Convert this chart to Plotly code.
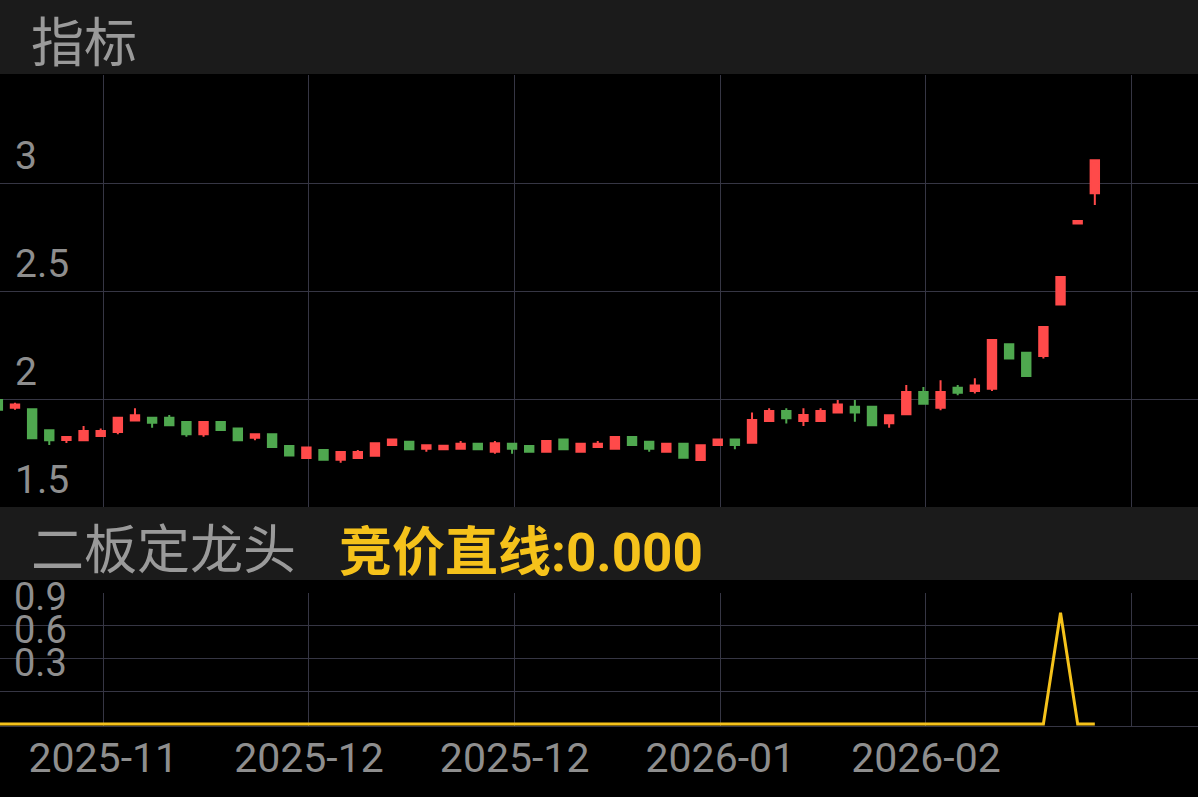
import plotly.graph_objects as go

# ---------------- data ----------------
candle_idx = list(range(-1, 64))
opens = [1.995, 1.960, 1.952, 1.855, 1.810, 1.809, 1.829, 1.847, 1.900, 1.913,
         1.913, 1.894, 1.837, 1.894, 1.864, 1.821, 1.837, 1.782, 1.727, 1.764,
         1.719, 1.727, 1.737, 1.787, 1.802, 1.770, 1.767, 1.770, 1.793, 1.756,
         1.793, 1.782, 1.756, 1.813, 1.756, 1.778, 1.770, 1.824, 1.802, 1.756,
         1.793, 1.718, 1.787, 1.813, 1.798, 1.898, 1.944, 1.898, 1.898, 1.937,
         1.964, 1.964, 1.888, 1.929, 2.032, 1.960, 2.052, 2.037, 2.048, 2.253,
         2.214, 2.199, 2.438, 2.812, 2.952]
highs = [1.997, 1.983, 1.953, 1.857, 1.826, 1.875, 1.864, 1.915, 1.957, 1.915,
         1.926, 1.896, 1.896, 1.896, 1.866, 1.839, 1.839, 1.784, 1.777, 1.766,
         1.757, 1.764, 1.797, 1.815, 1.804, 1.788, 1.788, 1.806, 1.795, 1.806,
         1.795, 1.784, 1.808, 1.815, 1.795, 1.806, 1.826, 1.826, 1.804, 1.795,
         1.795, 1.788, 1.815, 1.815, 1.937, 1.957, 1.957, 1.957, 1.957, 1.995,
         1.995, 1.966, 1.927, 2.065, 2.056, 2.087, 2.065, 2.096, 2.275, 2.255,
         2.216, 2.335, 2.567, 2.824, 3.107]
lows = [1.948, 1.950, 1.817, 1.787, 1.796, 1.807, 1.825, 1.837, 1.899, 1.867,
        1.876, 1.825, 1.825, 1.854, 1.807, 1.809, 1.776, 1.737, 1.725, 1.717,
        1.705, 1.725, 1.735, 1.785, 1.765, 1.756, 1.763, 1.768, 1.765, 1.747,
        1.747, 1.754, 1.754, 1.765, 1.754, 1.776, 1.768, 1.785, 1.756, 1.754,
        1.726, 1.716, 1.785, 1.767, 1.796, 1.894, 1.886, 1.875, 1.896, 1.935,
        1.895, 1.876, 1.867, 1.927, 1.976, 1.948, 2.017, 2.026, 2.037, 2.186,
        2.104, 2.187, 2.436, 2.812, 2.898]
closes = [1.950, 1.975, 1.818, 1.809, 1.824, 1.852, 1.852, 1.913, 1.925, 1.890,
          1.878, 1.837, 1.894, 1.856, 1.809, 1.837, 1.778, 1.739, 1.775, 1.719,
          1.755, 1.755, 1.795, 1.813, 1.767, 1.786, 1.784, 1.793, 1.767, 1.795,
          1.770, 1.756, 1.806, 1.767, 1.793, 1.793, 1.824, 1.787, 1.770, 1.793,
          1.728, 1.786, 1.813, 1.787, 1.903, 1.944, 1.911, 1.926, 1.944, 1.975,
          1.937, 1.878, 1.925, 2.032, 1.978, 2.032, 2.029, 2.063, 2.273, 2.188,
          2.106, 2.333, 2.565, 2.824, 3.105]
signal = [0, 0, 0, 0, 0, 0, 0, 0, 0, 0,
          0, 0, 0, 0, 0, 0, 0, 0, 0, 0,
          0, 0, 0, 0, 0, 0, 0, 0, 0, 0,
          0, 0, 0, 0, 0, 0, 0, 0, 0, 0,
          0, 0, 0, 0, 0, 0, 0, 0, 0, 0,
          0, 0, 0, 0, 0, 0, 0, 0, 0, 0,
          0, 0, 0.85, 0, 0]

x_tick_labels = ["2025-11", "2025-12", "2025-12", "2026-01", "2026-02", ""]
main_tick_vals = [1.5, 2, 2.5, 3]
main_tick_labels = ["1.5", "2", "2.5", "3"]
sub_tick_vals = [1.0, 0.75, 0.5]
sub_tick_labels = ["0.9", "0.6", "0.3"]

title_main = "指标"
title_sub = "二板定龙头"
sub_value_text = "竞价直线:0.000"

# ---------------- style ----------------
W, H = 1198, 797
RED = "#FF4A4A"
GREEN = "#4FA84F"
YELLOW = "#F5C21B"
GRID = "#363644"
BAND = "#1B1B1B"
TXT = "#8E8E8E"
HDR = "#9A9A9A"
FONT = "Roboto, 'Noto Sans CJK SC', sans-serif"

x_grid = [5.15 + 12 * k for k in range(len(x_tick_labels))]
x_range = [-0.875, 69.02]

def py(px_from_top):
    return (H - px_from_top) / H

fig = go.Figure()
fig.add_trace(go.Candlestick(
    x=candle_idx, open=opens, high=highs, low=lows, close=closes,
    increasing=dict(line=dict(color=RED, width=2), fillcolor=RED),
    decreasing=dict(line=dict(color=GREEN, width=2), fillcolor=GREEN),
    whiskerwidth=0, xaxis="x", yaxis="y", showlegend=False,
))
fig.add_trace(go.Scatter(
    x=candle_idx, y=signal, mode="lines",
    line=dict(color=YELLOW, width=3), xaxis="x2", yaxis="y2", showlegend=False,
))

annotations = []
for v, t in zip(main_tick_vals, main_tick_labels):
    annotations.append(dict(text=t, xref="paper", x=13 / W, xanchor="left",
                            yref="y", y=v, yanchor="middle", yshift=27,
                            showarrow=False, font=dict(family=FONT, size=39, color=TXT)))
for v, t in zip(sub_tick_vals, sub_tick_labels):
    annotations.append(dict(text=t, xref="paper", x=13 / W, xanchor="left",
                            yref="y2", y=v, yanchor="middle", yshift=-4, height=30,
                            valign="middle", borderpad=0,
                            showarrow=False, font=dict(family=FONT, size=38, color=TXT)))
annotations.append(dict(text=title_main, xref="paper", x=30 / W, xanchor="left",
                        yref="paper", y=py(44), yanchor="middle", showarrow=False,
                        height=56, valign="middle", borderpad=0,
                        font=dict(family=FONT, size=53, color=HDR)))
annotations.append(dict(text=title_sub, xref="paper", x=30 / W, xanchor="left",
                        yref="paper", y=py(551), yanchor="middle", showarrow=False,
                        height=56, valign="middle", borderpad=0,
                        font=dict(family=FONT, size=53, color=HDR)))
annotations.append(dict(text="<b>" + sub_value_text + "</b>", xref="paper", x=338 / W, xanchor="left",
                        yref="paper", y=py(553), yanchor="middle", showarrow=False,
                        height=56, valign="middle", borderpad=0,
                        font=dict(family=FONT, size=53, color=YELLOW)))

shapes = [
    dict(type="rect", xref="paper", yref="paper", x0=0, x1=1, y0=py(74), y1=1,
         fillcolor=BAND, line=dict(width=0), layer="below"),
    dict(type="rect", xref="paper", yref="paper", x0=0, x1=1, y0=py(580), y1=py(507),
         fillcolor=BAND, line=dict(width=0), layer="below"),
]

fig.update_layout(
    width=W, height=H,
    margin=dict(l=0, r=0, t=0, b=0),
    paper_bgcolor="#000000", plot_bgcolor="#000000",
    showlegend=False,
    boxgap=0.3, boxgroupgap=0.3,
    xaxis=dict(domain=[0, 1], range=x_range, anchor="y", tickvals=x_grid,
               showticklabels=False, showgrid=True, gridcolor=GRID, gridwidth=1,
               zeroline=False, rangeslider=dict(visible=False), ticks=""),
    xaxis2=dict(domain=[0, 1], range=x_range, anchor="y2", matches="x",
                tickvals=x_grid, ticktext=x_tick_labels, showticklabels=True,
                tickfont=dict(family=FONT, size=41, color=TXT),
                ticks="", ticklabelstandoff=-4,
                showgrid=True, gridcolor=GRID, gridwidth=1, zeroline=False,
                showline=True, linecolor=GRID, linewidth=1),
    yaxis=dict(domain=[py(507), py(75)], range=[1.5, 3.5], tickvals=[2, 2.5, 3, 3.5],
               showticklabels=False, showgrid=True, gridcolor=GRID, gridwidth=1,
               zeroline=False, ticks=""),
    yaxis2=dict(domain=[py(726), py(593)], range=[-0.015, 1],
                tickvals=[0.25, 0.5, 0.75, 1.0], showticklabels=False,
                showgrid=True, gridcolor=GRID, gridwidth=1, zeroline=False, ticks=""),
    annotations=annotations,
    shapes=shapes,
    hovermode=False,
)

fig.write_html("out.html", config={"displayModeBar": False})

# remove the browser's default page margin so the figure sits at (0, 0)
with open("out.html", "r", encoding="utf-8") as f:
    html = f.read()
html = html.replace("<head>", "<head><style>html,body{margin:0;padding:0;background:#000;}</style>", 1)
with open("out.html", "w", encoding="utf-8") as f:
    f.write(html)
